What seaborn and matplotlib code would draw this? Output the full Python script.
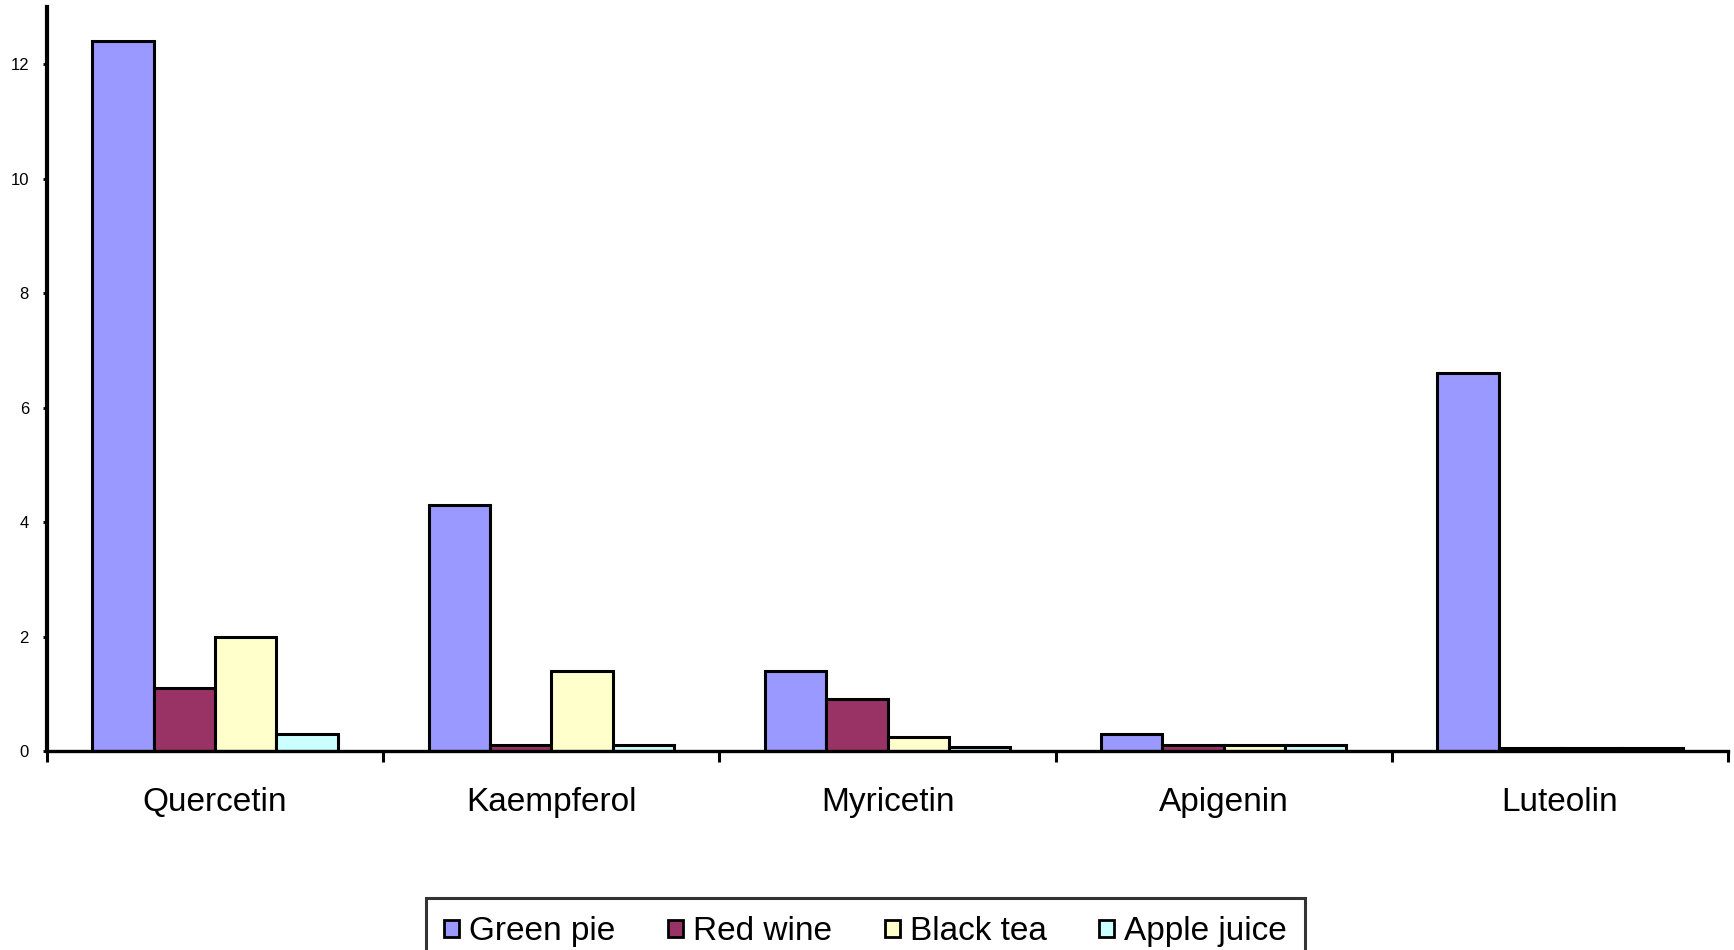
import matplotlib
matplotlib.use("Agg")
import matplotlib.pyplot as plt
import matplotlib.ticker as mticker
import numpy as np
import pandas as pd
import seaborn as sns

# Flavonoid content per beverage/food
compounds = ["Quercetin", "Kaempferol", "Myricetin", "Apigenin", "Luteolin"]
series = ["Green pie", "Red wine", "Black tea", "Apple juice"]
green_pie = [12.4, 4.3, 1.4, 0.3, 6.6]
red_wine = [1.1, 0.1, 0.9, 0.1, 0.06]
black_tea = [2.0, 1.4, 0.25, 0.1, 0.06]
apple_juice = [0.3, 0.1, 0.07, 0.1, 0.06]
colors = ["#9999FF", "#993366", "#FFFFCC", "#CCFFFF"]
y_ticks = [0, 2, 4, 6, 8, 10, 12]

df = pd.DataFrame({
    "compound": compounds * 4,
    "source": np.repeat(series, len(compounds)),
    "value": green_pie + red_wine + black_tea + apple_juice,
})

sns.set_style("white")
plt.rcParams["font.family"] = ["Liberation Sans", "DejaVu Sans"]
plt.rcParams["text.color"] = "black"
plt.rcParams["xtick.color"] = "black"
plt.rcParams["ytick.color"] = "black"
plt.rcParams["xtick.labelcolor"] = "black"
plt.rcParams["ytick.labelcolor"] = "black"

fig = plt.figure(figsize=(17.34, 9.5), dpi=100)
ax = fig.add_axes([47 / 1734, 1 - 751 / 950, 1681 / 1734, 744 / 950])

sns.barplot(data=df, x="compound", y="value", hue="source",
            order=compounds, hue_order=series, palette=colors,
            width=0.73, edgecolor="black", linewidth=2.2,
            saturation=1, ax=ax, legend=True)

ax.set_xlim(-0.5, 4.5)
ax.set_ylim(0, 13)
ax.set_xlabel("")
ax.set_ylabel("")

for side in ("top", "right"):
    ax.spines[side].set_visible(False)
ax.spines["left"].set_linewidth(3.0)
ax.spines["bottom"].set_linewidth(2.4)
ax.spines["left"].set_color("black")
ax.spines["bottom"].set_color("black")

ax.set_yticks(y_ticks)
ax.set_yticklabels([str(t) for t in y_ticks])
ax.tick_params(axis="y", direction="out", length=3, width=2, pad=10,
               labelsize=12, left=True, colors="black")

# category labels centered, tick marks on group boundaries
ax.xaxis.set_minor_locator(mticker.FixedLocator(np.arange(-0.5, 5.0, 1.0)))
ax.tick_params(axis="x", which="major", length=0, pad=26, labelsize=24,
               colors="black")
ax.tick_params(axis="x", which="minor", direction="out", length=8, width=2.2,
               bottom=True, colors="black")

ax.get_legend().remove()
handles = [plt.Rectangle((0, 0), 1, 1, facecolor=c, edgecolor="black", linewidth=2)
           for c in colors]
leg = fig.legend(handles, series, loc="upper left",
                 bbox_to_anchor=(426 / 1734, 1 - 898 / 950, 879 / 1734, 0),
                 mode="expand", ncol=4,
                 fontsize=24, frameon=True, fancybox=False, edgecolor="black",
                 handlelength=0.45, handleheight=0.45, handletextpad=0.3,
                 columnspacing=1.0, borderpad=0.55, borderaxespad=0)
leg.get_frame().set_linewidth(2.2)
for t in leg.get_texts():
    t.set_color("black")

fig.savefig("out.png", dpi=100, facecolor="white")
